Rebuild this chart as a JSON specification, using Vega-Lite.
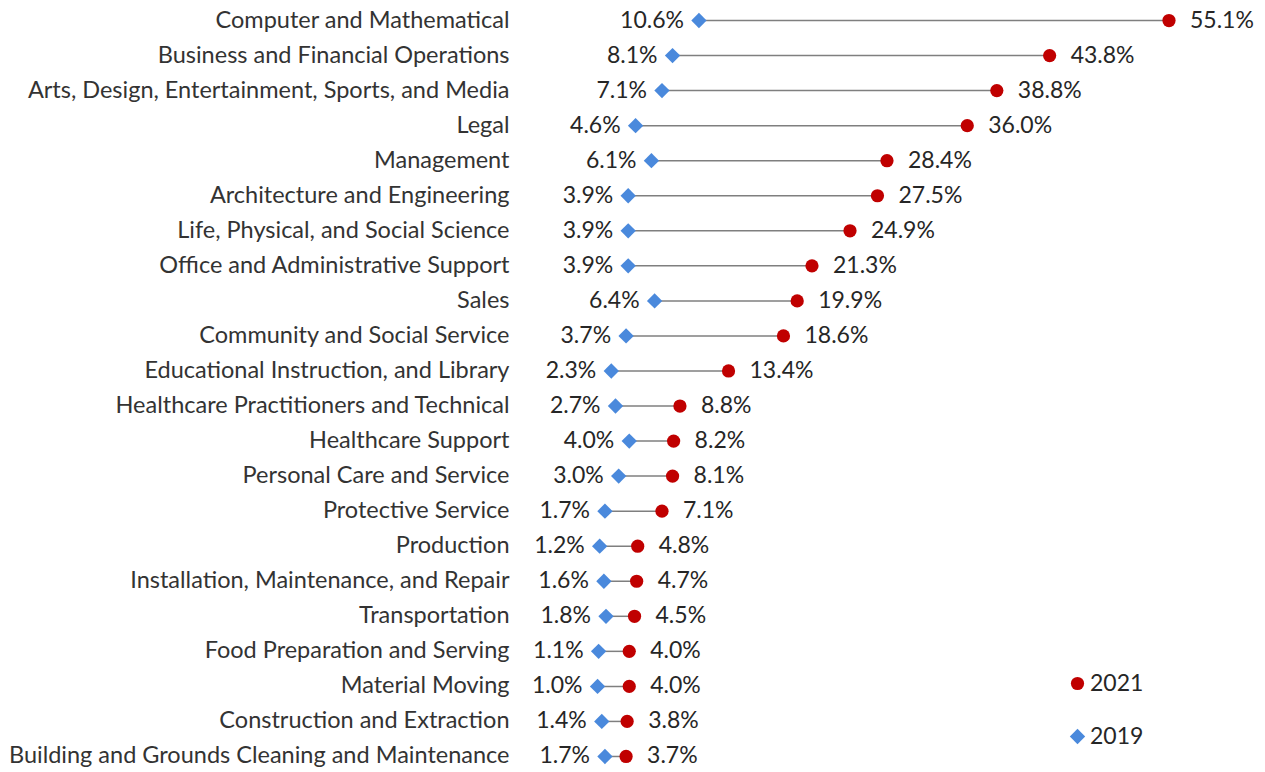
{
  "$schema": "https://vega.github.io/schema/vega-lite/v6.json",
  "width": 745,
  "height": 771,
  "autosize": {"type": "none"},
  "padding": {"left": 520, "top": 3, "right": 0, "bottom": 0},
  "background": "white",
  "config": {"view": {"stroke": null}, "font": "Lato"},
  "data": {"values": [
    {"cat": "Computer and Mathematical", "v2019": 0.106, "v2021": 0.551},
    {"cat": "Business and Financial Operations", "v2019": 0.081, "v2021": 0.438},
    {"cat": "Arts, Design, Entertainment, Sports, and Media", "v2019": 0.071, "v2021": 0.388},
    {"cat": "Legal", "v2019": 0.046, "v2021": 0.360},
    {"cat": "Management", "v2019": 0.061, "v2021": 0.284},
    {"cat": "Architecture and Engineering", "v2019": 0.039, "v2021": 0.275},
    {"cat": "Life, Physical, and Social Science", "v2019": 0.039, "v2021": 0.249},
    {"cat": "Office and Administrative Support", "v2019": 0.039, "v2021": 0.213},
    {"cat": "Sales", "v2019": 0.064, "v2021": 0.199},
    {"cat": "Community and Social Service", "v2019": 0.037, "v2021": 0.186},
    {"cat": "Educational Instruction, and Library", "v2019": 0.023, "v2021": 0.134},
    {"cat": "Healthcare Practitioners and Technical", "v2019": 0.027, "v2021": 0.088},
    {"cat": "Healthcare Support", "v2019": 0.040, "v2021": 0.082},
    {"cat": "Personal Care and Service", "v2019": 0.030, "v2021": 0.081},
    {"cat": "Protective Service", "v2019": 0.017, "v2021": 0.071},
    {"cat": "Production", "v2019": 0.012, "v2021": 0.048},
    {"cat": "Installation, Maintenance, and Repair", "v2019": 0.016, "v2021": 0.047},
    {"cat": "Transportation", "v2019": 0.018, "v2021": 0.045},
    {"cat": "Food Preparation and Serving", "v2019": 0.011, "v2021": 0.040},
    {"cat": "Material Moving", "v2019": 0.010, "v2021": 0.040},
    {"cat": "Construction and Extraction", "v2019": 0.014, "v2021": 0.038},
    {"cat": "Building and Grounds Cleaning and Maintenance", "v2019": 0.017, "v2021": 0.037}
  ]},
  "encoding": {
    "y": {"field": "cat", "type": "nominal", "sort": null,
      "scale": {"paddingInner": 0, "paddingOuter": 0},
      "axis": {"title": null, "ticks": false, "domain": false, "labelPadding": 11, "labelFontSize": 23.5, "labelColor": "#333333", "labelLimit": 600, "labelFont": "Lato"}}
  },
  "layer": [
    {
      "mark": {"type": "rule", "color": "#7f7f7f", "strokeWidth": 1.5},
      "encoding": {
        "x": {"field": "v2019", "type": "quantitative", "scale": {"domain": [-0.06343, 0.6419], "nice": false, "zero": false}, "axis": null},
        "x2": {"field": "v2021"}
      }
    },
    {
      "transform": [{"fold": ["v2021", "v2019"], "as": ["key", "value"]},
        {"lookup": "key", "from": {"data": {"values": [{"key": "v2021", "year": "2021"}, {"key": "v2019", "year": "2019"}]}, "key": "key", "fields": ["year"]}}],
      "mark": {"type": "point", "filled": true, "opacity": 1},
      "encoding": {
        "x": {"field": "value", "type": "quantitative"},
        "color": {"field": "year", "type": "nominal", "scale": {"domain": ["2021", "2019"], "range": ["#C00000", "#4A89DC"]},
          "legend": {"title": null, "orient": "none", "legendX": 546, "legendY": 669, "labelFontSize": 23, "labelColor": "#262626", "labelOffset": 1, "rowPadding": 29, "padding": 0, "labelFont": "Lato"}},
        "shape": {"field": "year", "type": "nominal", "scale": {"domain": ["2021", "2019"], "range": ["circle", "diamond"]}},
        "size": {"field": "year", "type": "nominal", "scale": {"domain": ["2021", "2019"], "range": [175, 235]}}
      }
    },
    {
      "mark": {"type": "text", "align": "left", "baseline": "middle", "dx": 21, "fontSize": 23, "color": "#262626"},
      "encoding": {
        "x": {"field": "v2021", "type": "quantitative"},
        "text": {"field": "v2021", "type": "quantitative", "format": ".1%"}
      }
    },
    {
      "mark": {"type": "text", "align": "right", "baseline": "middle", "dx": -15, "fontSize": 23, "color": "#262626"},
      "encoding": {
        "x": {"field": "v2019", "type": "quantitative"},
        "text": {"field": "v2019", "type": "quantitative", "format": ".1%"}
      }
    }
  ]
}
